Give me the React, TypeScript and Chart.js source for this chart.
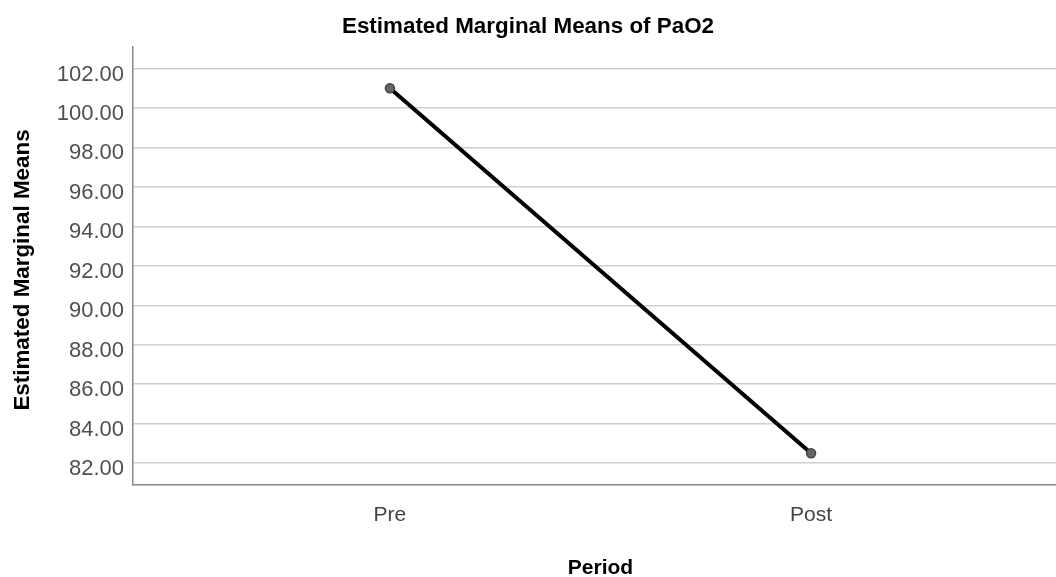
import React, { useEffect, useRef } from "react";
import { Chart, registerables } from "chart.js";

Chart.register(...registerables);

const chartTitle = "Estimated Marginal Means of PaO2";
const yAxisTitle = "Estimated Marginal Means";
const xAxisTitle = "Period";
const periods = ["Pre", "Post"];
const means = [101.0, 82.5];
const yTickValues = [82, 84, 86, 88, 90, 92, 94, 96, 98, 100, 102];
const yMin = 80.89;
const yMax = 103.09;
const xMin = -0.61;
const xMax = 1.61;

const FONT = "'Liberation Sans', Arial, sans-serif";

const titlePlugin = {
  id: "spssTitles",
  afterDraw(chart: any) {
    const ctx = chart.ctx;
    ctx.save();
    ctx.font = `bold 22.4px ${FONT}`;
    ctx.fillStyle = "#000000";
    ctx.textAlign = "center";
    ctx.textBaseline = "alphabetic";
    ctx.fillText(chartTitle, 528, 33);
    ctx.restore();

    const area = chart.chartArea;
    ctx.save();
    ctx.font = `bold 22.4px ${FONT}`;
    ctx.fillStyle = "#000000";
    ctx.textAlign = "center";
    ctx.textBaseline = "middle";
    ctx.translate(23, (area.top + area.bottom) / 2 + 4);
    ctx.rotate(-Math.PI / 2);
    ctx.fillText(yAxisTitle, 0, 0);
    ctx.restore();
  },
};

export default function App() {
  const canvasRef = useRef<HTMLCanvasElement | null>(null);

  useEffect(() => {
    const canvas = canvasRef.current;
    if (!canvas) return;
    const chart = new Chart(canvas, {
      type: "line",
      data: {
        datasets: [
          {
            data: means.map((v, i) => ({ x: i, y: v })),
            borderColor: "#000000",
            borderWidth: 4,
            pointRadius: 4.5,
            pointBackgroundColor: "#666666",
            pointBorderColor: "#444444",
            pointBorderWidth: 1.5,
            tension: 0,
          },
        ],
      },
      options: {
        responsive: false,
        animation: false,
        devicePixelRatio: 1,
        layout: { padding: { top: 47, left: 0, right: 0, bottom: 0 } },
        plugins: {
          legend: { display: false },
          tooltip: { enabled: false },
          title: { display: false },
        },
        scales: {
          x: {
            type: "linear",
            min: xMin,
            max: xMax,
            afterBuildTicks: (scale: any) => {
              scale.ticks = periods.map((_, i) => ({ value: i }));
            },
            afterFit: (scale: any) => {
              scale.height = 92;
            },
            ticks: {
              callback: (v: any) => periods[v as number] ?? "",
              color: "#444444",
              font: { family: FONT, size: 21 },
              padding: 18,
              maxRotation: 0,
            },
            grid: { display: false, drawTicks: false },
            border: { display: true, color: "#888888", width: 1.5 },
            title: {
              display: true,
              text: xAxisTitle,
              color: "#000000",
              font: { family: FONT, size: 21, weight: "bold", lineHeight: 0.8 },
              padding: { top: 0, bottom: 0 },
            },
          },
          y: {
            type: "linear",
            min: yMin,
            max: yMax,
            afterBuildTicks: (scale: any) => {
              scale.ticks = yTickValues.map((v) => ({ value: v }));
            },
            afterFit: (scale: any) => {
              scale.width = 133;
            },
            ticks: {
              callback: (v: any) => Number(v).toFixed(2),
              color: "#505050",
              font: { family: FONT, size: 22 },
              padding: 9,
              labelOffset: 6,
            },
            grid: {
              color: "#cfcfcf",
              lineWidth: 1.5,
              drawTicks: false,
            },
            border: { display: true, color: "#888888", width: 1.5 },
            title: { display: false },
          },
        },
      },
      plugins: [titlePlugin],
    });
    return () => chart.destroy();
  }, []);

  return (
    <div
      style={{
        position: "fixed",
        left: 0,
        top: 0,
        width: 1056,
        height: 577,
        overflow: "hidden",
        background: "#ffffff",
      }}
    >
      <canvas
        ref={canvasRef}
        width={1074}
        height={577}
        style={{ width: 1074, height: 577, display: "block" }}
      />
    </div>
  );
}
